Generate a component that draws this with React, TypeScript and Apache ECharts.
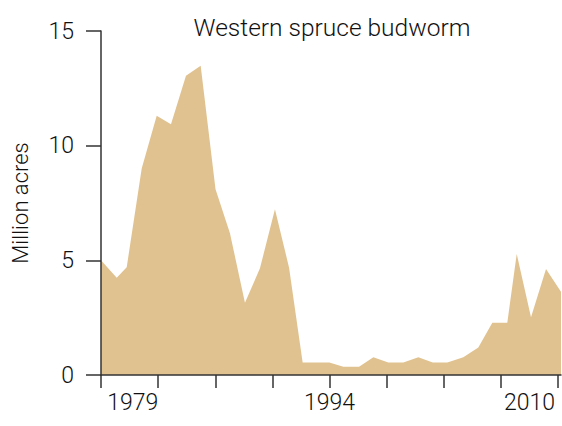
import React, { useEffect, useRef } from "react";
import * as echarts from "echarts";

// Year positions and defoliated area in million acres
const years = [
  1978.0, 1979.1, 1979.8, 1980.85, 1981.9, 1982.9, 1983.95, 1984.98, 1986.02, 1987.03,
  1988.08, 1989.13, 1990.18, 1991.17, 1992.12, 1993.06, 1993.99, 1994.97, 1996.07, 1997.07,
  1998.12, 1999.17, 2000.22, 2001.23, 2002.25, 2003.37, 2004.42, 2005.4, 2006.45, 2007.11,
  2008.11, 2009.16, 2010.21,
];
const acres = [
  5.0, 4.24, 4.7, 9.0, 11.3, 10.93, 13.05, 13.49, 8.1, 6.18,
  3.15, 4.65, 7.23, 4.68, 0.55, 0.55, 0.55, 0.36, 0.36, 0.77,
  0.55, 0.55, 0.77, 0.55, 0.55, 0.77, 1.2, 2.28, 2.28, 5.28,
  2.52, 4.62, 3.63,
];
const xTickYears = [1978, 1982, 1986, 1990, 1994, 1998, 2002, 2006, 2010];
const xLabelYears = [1979, 1994, 2010];
const yTicks = [0, 5, 10, 15];

const title = "Western spruce budworm";
const yName = "Million acres";

const FONT = "Roboto";
const W = 300;
const TEXT = "#111";
const LBL = 23;

export default function App() {
  const ref = useRef<HTMLDivElement>(null);
  useEffect(() => {
    if (!ref.current) return;
    const chart = echarts.init(ref.current, undefined, { renderer: "svg" });
    const data = years.map((y, i) => [y, acres[i]]);
    chart.setOption({
      animation: false,
      title: {
        text: title,
        left: 327,
        top: 10,
        textAlign: "center",
        textStyle: { fontFamily: FONT, fontSize: 24.5, fontWeight: W, color: TEXT },
      },
      grid: { left: 101, right: 1, top: 31, bottom: 51, containLabel: false },
      xAxis: {
        type: "value",
        min: 1978,
        max: 2010.21,
        z: 5,
        splitLine: { show: false },
        axisLine: { show: true, lineStyle: { color: "#333", width: 1.5 } },
        axisTick: {
          show: true,
          length: 13,
          customValues: xTickYears,
          lineStyle: { color: "#333", width: 1.5 },
        },
        axisLabel: {
          show: true,
          customValues: xLabelYears,
          margin: 16,
          fontFamily: FONT,
          fontSize: LBL,
          fontWeight: W,
          color: TEXT,
          formatter: (v: number) => {
            const s = String(Math.round(v));
            if (Math.round(v) === xLabelYears[0]) return "{a|" + s + "}";
            if (Math.round(v) === xLabelYears[2]) return "{c|" + s + "}";
            return "{b|" + s + "}";
          },
          rich: {
            a: { fontFamily: FONT, fontSize: LBL, fontWeight: W, color: TEXT, padding: [0, 0, 0, 35] },
            b: { fontFamily: FONT, fontSize: LBL, fontWeight: W, color: TEXT },
            c: { fontFamily: FONT, fontSize: LBL, fontWeight: W, color: TEXT, padding: [0, 57, 0, 0] },
          },
        },
      },
      yAxis: {
        type: "value",
        min: yTicks[0],
        max: yTicks[yTicks.length - 1],
        interval: 5,
        z: 5,
        name: yName,
        nameLocation: "middle",
        nameRotate: 90,
        nameGap: 70,
        nameTextStyle: { fontFamily: FONT, fontSize: 22, fontWeight: W, color: TEXT },
        splitLine: { show: false },
        axisLine: { show: true, lineStyle: { color: "#333", width: 1.5 } },
        axisTick: { show: true, length: 15, lineStyle: { color: "#333", width: 1.5 } },
        axisLabel: {
          margin: 27,
          fontFamily: FONT,
          fontSize: LBL,
          fontWeight: W,
          color: TEXT,
        },
      },
      series: [
        {
          type: "line",
          data,
          symbol: "none",
          lineStyle: { width: 0 },
          areaStyle: { color: "#e0c291", opacity: 1 },
          z: 2,
        },
      ],
    });
    return () => chart.dispose();
  }, []);
  return (
    <div
      ref={ref}
      style={{ position: "absolute", left: 0, top: 0, width: 562, height: 426 }}
    />
  );
}
